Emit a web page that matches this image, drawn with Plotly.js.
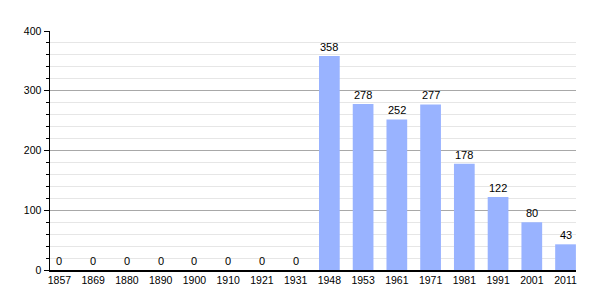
<!DOCTYPE html>
<html><head><meta charset="utf-8">
<script src="https://cdn.plot.ly/plotly-3.0.1.min.js"></script>
<style>body{margin:0;background:#fff}#c{width:605px;height:300px}</style>
</head><body><div id="c"></div>
<script>
var years = ["1857","1869","1880","1890","1900","1910","1921","1931","1948","1953","1961","1971","1981","1991","2001","2011"];
var population = [0,0,0,0,0,0,0,0,358,278,252,277,178,122,80,43];

var FONT = 'Liberation Sans, Arial, Helvetica, sans-serif';
var bars = {
  type: 'bar', x: years, y: population,
  marker: {color: '#99b3ff', line: {width: 0}},
  hoverinfo: 'x+y'
};
var annotations = years.map(function (yr, i) {
  return {x: i, y: population[i], xref: 'x', yref: 'y', text: String(population[i]),
          showarrow: false, yanchor: 'middle', xanchor: 'center', yshift: 9,
          font: {family: FONT, size: 11, color: '#000000'}};
});
var layout = {
  width: 605, height: 300,
  margin: {l: 50, r: 29, t: 31, b: 30},
  paper_bgcolor: '#fff', plot_bgcolor: '#fff',
  showlegend: false, bargap: 0.386,
  font: {family: FONT, size: 10.5, color: '#000000'},
  annotations: annotations,
  xaxis: {type: 'category', range: [-0.28, 15.31], showgrid: false, showline: true, linecolor: '#000', linewidth: 1.5,
          ticks: '', tickfont: {family: FONT, size: 10.5, color: '#000000'}, fixedrange: true, zeroline: false},
  yaxis: {range: [0, 400], dtick: 100, showgrid: true, gridcolor: '#a8a8a8', gridwidth: 1,
          showline: true, linecolor: '#000', linewidth: 1.5, ticks: 'outside', ticklen: 5,
          tickcolor: '#000', tickfont: {family: FONT, size: 10.5, color: '#000000'}, zeroline: false,
          minor: {dtick: 20, showgrid: true, gridcolor: '#e6e6e6', gridwidth: 1, ticks: 'outside', ticklen: 3, tickcolor: '#000'}}
};
Plotly.newPlot('c', [bars], layout, {displayModeBar: false, staticPlot: true});
</script></body></html>
